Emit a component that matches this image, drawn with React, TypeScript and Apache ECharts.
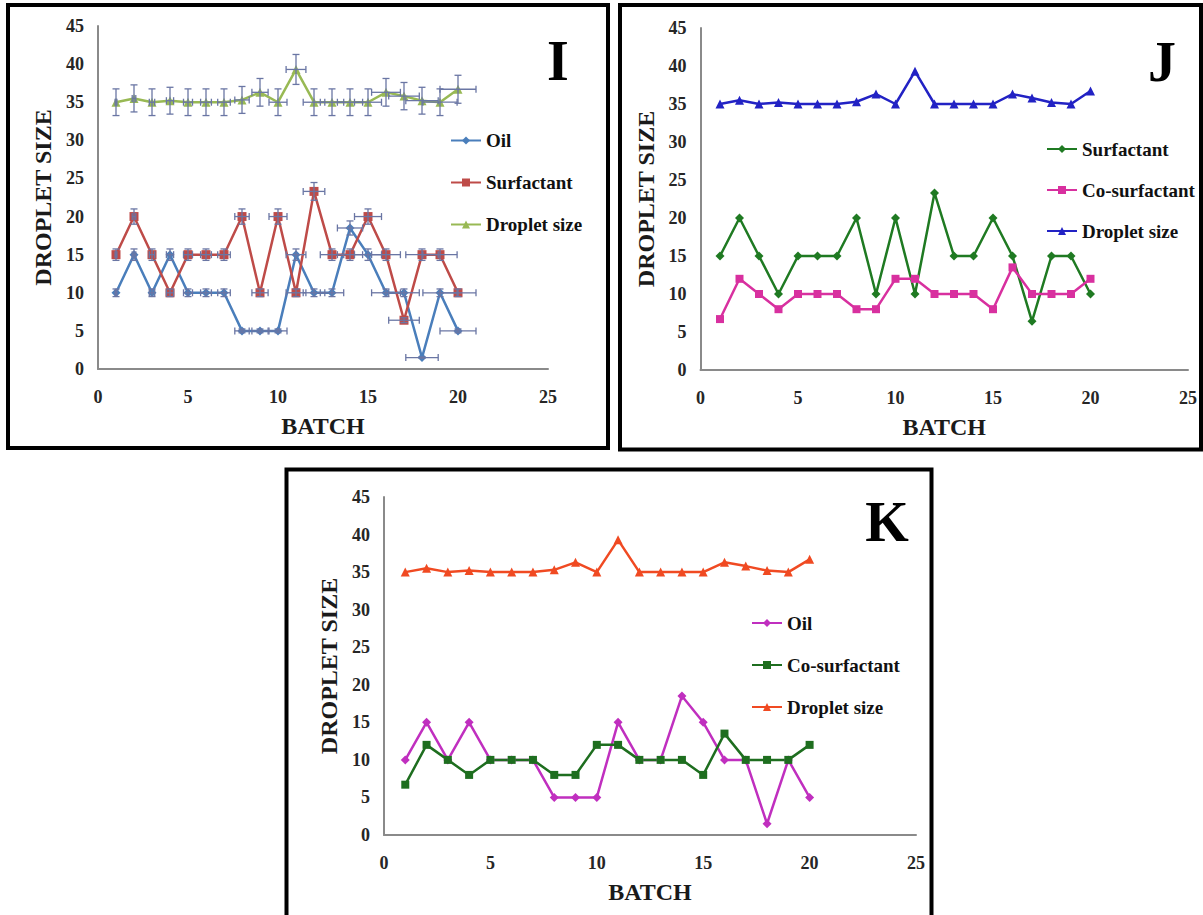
import React, { useEffect, useRef } from "react";
import * as echarts from "echarts";

// ---------------- data ----------------
const batches = [1, 2, 3, 4, 5, 6, 7, 8, 9, 10, 11, 12, 13, 14, 15, 16, 17, 18, 19, 20];
const oil = [10, 15, 10, 15, 10, 10, 10, 5, 5, 5, 15, 10, 10, 18.5, 15, 10, 10, 1.5, 10, 5];
const surfactant = [15, 20, 15, 10, 15, 15, 15, 20, 10, 20, 10, 23.3, 15, 15, 20, 15, 6.4, 15, 15, 10];
const coSurfactant = [6.7, 12, 10, 8, 10, 10, 10, 8, 8, 12, 12, 10, 10, 10, 8, 13.5, 10, 10, 10, 12];
const dropletSize = [35, 35.5, 35, 35.2, 35, 35, 35, 35.3, 36.3, 35, 39.3, 35, 35, 35, 35, 36.3, 35.8, 35.2, 35, 36.7];

const panelLetters = ["I", "J", "K"];
const xAxisTitle = "BATCH";
const yAxisTitle = "DROPLET SIZE";
const ERR_PCT = 0.05; // Excel-style percentage error bars (panel I)

// ---------------- styling ----------------
const SERIF = '"Liberation Serif", "Times New Roman", serif';
const ERR_COLOR = "#6a76a4";

type SeriesDef = {
  name: string;
  values: number[];
  color: string;
  symbol: string;
  symbolSize: number;
};

type PanelDef = {
  letter: string;
  div: { left: number; top: number; width: number; height: number };
  border: { x: number; y: number; w: number; h: number };
  grid: { left: number; top: number; width: number; height: number };
  legend: { left: number; top: number; gap: number };
  letterPos: [number, number];
  series: SeriesDef[];
  errorBars: boolean;
};

const panels: PanelDef[] = [
  {
    letter: panelLetters[0],
    div: { left: 0, top: 0, width: 615, height: 455 },
    border: { x: 8, y: 5, w: 600, h: 443 },
    grid: { left: 98, top: 26, width: 450, height: 343 },
    legend: { left: 450, top: 131, gap: 23 },
    letterPos: [558, 61],
    errorBars: true,
    series: [
      { name: "Oil", values: oil, color: "#4a7ebb", symbol: "diamond", symbolSize: 9 },
      { name: "Surfactant", values: surfactant, color: "#be4b48", symbol: "rect", symbolSize: 9 },
      { name: "Droplet size", values: dropletSize, color: "#98b954", symbol: "triangle", symbolSize: 9 },
    ],
  },
  {
    letter: panelLetters[1],
    div: { left: 615, top: 0, width: 588, height: 455 },
    border: { x: 5, y: 5, w: 581, h: 444.5 },
    grid: { left: 85.5, top: 28, width: 487.5, height: 342 },
    legend: { left: 431, top: 139.5, gap: 22 },
    letterPos: [547, 62],
    errorBars: false,
    series: [
      { name: "Surfactant", values: surfactant, color: "#1f7a22", symbol: "diamond", symbolSize: 9 },
      { name: "Co-surfactant", values: coSurfactant, color: "#d8309f", symbol: "rect", symbolSize: 8 },
      { name: "Droplet size", values: dropletSize, color: "#2222c4", symbol: "triangle", symbolSize: 9 },
    ],
  },
  {
    letter: panelLetters[2],
    div: { left: 280, top: 462, width: 660, height: 453 },
    border: { x: 6.5, y: 7.5, w: 645, h: 480 },
    grid: { left: 104, top: 35, width: 532, height: 338 },
    legend: { left: 471, top: 151.5, gap: 23 },
    letterPos: [607, 60],
    errorBars: false,
    series: [
      { name: "Oil", values: oil, color: "#c02fbf", symbol: "diamond", symbolSize: 9 },
      { name: "Co-surfactant", values: coSurfactant, color: "#1e6e1f", symbol: "rect", symbolSize: 8 },
      { name: "Droplet size", values: dropletSize, color: "#f04a22", symbol: "triangle", symbolSize: 9 },
    ],
  },
];

function makeErrorSeries(s: SeriesDef) {
  return {
    type: "custom",
    name: s.name + " error",
    silent: true,
    z: 3,
    data: batches.map((b, i) => [b, s.values[i]]),
    renderItem: (_params: any, api: any) => {
      const x = api.value(0);
      const y = api.value(1);
      const dx = x * ERR_PCT;
      const dy = y * ERR_PCT;
      const c = api.coord([x, y]);
      const l = api.coord([x - dx, y]);
      const r = api.coord([x + dx, y]);
      const t = api.coord([x, y + dy]);
      const b = api.coord([x, y - dy]);
      const style = { stroke: ERR_COLOR, lineWidth: 1.3 };
      const cap = 3.5;
      const seg = (x1: number, y1: number, x2: number, y2: number) => ({
        type: "line",
        shape: { x1, y1, x2, y2 },
        style,
      });
      return {
        type: "group",
        children: [
          seg(l[0], c[1], r[0], c[1]),
          seg(l[0], c[1] - cap, l[0], c[1] + cap),
          seg(r[0], c[1] - cap, r[0], c[1] + cap),
          seg(c[0], t[1], c[0], b[1]),
          seg(c[0] - cap, t[1], c[0] + cap, t[1]),
          seg(c[0] - cap, b[1], c[0] + cap, b[1]),
        ],
      };
    },
  };
}

function buildOption(p: PanelDef) {
  const axisLine = { show: true, lineStyle: { color: "#8a8a8a", width: 2 } };
  const labelStyle = {
    fontFamily: SERIF,
    fontWeight: "bold" as const,
    fontSize: 18,
    color: "#262626",
  };
  const lineSeries = p.series.map((s) => ({
    type: "line",
    name: s.name,
    data: batches.map((b, i) => [b, s.values[i]]),
    symbol: s.symbol,
    symbolSize: s.symbolSize,
    showAllSymbol: true,
    z: 2,
    lineStyle: { color: s.color, width: 2.5 },
    itemStyle: { color: s.color },
  }));
  const errSeries = p.errorBars ? p.series.map(makeErrorSeries) : [];
  return {
    animation: false,
    backgroundColor: "#ffffff",
    grid: {
      left: p.grid.left,
      top: p.grid.top,
      width: p.grid.width,
      height: p.grid.height,
      containLabel: false,
      outerBoundsMode: "none",
    },
    xAxis: {
      type: "value",
      min: 0,
      max: 25,
      interval: 5,
      axisLine,
      axisTick: { show: false },
      splitLine: { show: false },
      axisLabel: { ...labelStyle, margin: 19 },
      name: xAxisTitle,
      nameLocation: "middle",
      nameGap: 45,
      nameTextStyle: { fontFamily: SERIF, fontWeight: "bold", fontSize: 24, color: "#1a1a1a" },
    },
    yAxis: {
      type: "value",
      min: 0,
      max: 45,
      interval: 5,
      axisLine,
      axisTick: { show: false },
      splitLine: { show: false },
      axisLabel: { ...labelStyle, margin: 14 },
      name: yAxisTitle,
      nameLocation: "middle",
      nameGap: 38,
      nameTextStyle: { fontFamily: SERIF, fontWeight: "bold", fontSize: 24, color: "#1a1a1a" },
    },
    legend: {
      orient: "vertical",
      left: p.legend.left,
      top: p.legend.top,
      padding: 0,
      itemGap: p.legend.gap,
      itemWidth: 30,
      itemHeight: 10,
      selectedMode: false,
      data: p.series.map((s) => s.name),
      textStyle: { fontFamily: SERIF, fontWeight: "bold", fontSize: 19, color: "#111" },
    },
    graphic: [
      {
        type: "rect",
        silent: true,
        shape: { x: p.border.x, y: p.border.y, width: p.border.w, height: p.border.h },
        style: { fill: "none", stroke: "#000", lineWidth: 4 },
        z: 100,
      },
      {
        type: "text",
        silent: true,
        x: p.letterPos[0],
        y: p.letterPos[1],
        style: {
          text: p.letter,
          fontFamily: SERIF,
          fontWeight: "bold",
          fontSize: 56,
          fill: "#000",
          align: "center",
          verticalAlign: "middle",
        },
      },
    ],
    series: [...lineSeries, ...errSeries],
  };
}

function Panel({ def }: { def: PanelDef }) {
  const ref = useRef<HTMLDivElement>(null);
  useEffect(() => {
    if (!ref.current) return;
    const chart = echarts.init(ref.current, undefined, { renderer: "svg" });
    chart.setOption(buildOption(def) as any);
    return () => chart.dispose();
  }, [def]);
  return (
    <div
      ref={ref}
      style={{
        position: "absolute",
        left: def.div.left,
        top: def.div.top,
        width: def.div.width,
        height: def.div.height,
      }}
    />
  );
}

export default function App() {
  return (
    <div
      style={{
        position: "fixed",
        left: 0,
        top: 0,
        width: 1203,
        height: 915,
        background: "#ffffff",
        overflow: "hidden",
      }}
    >
      {panels.map((p) => (
        <Panel key={p.letter} def={p} />
      ))}
    </div>
  );
}
